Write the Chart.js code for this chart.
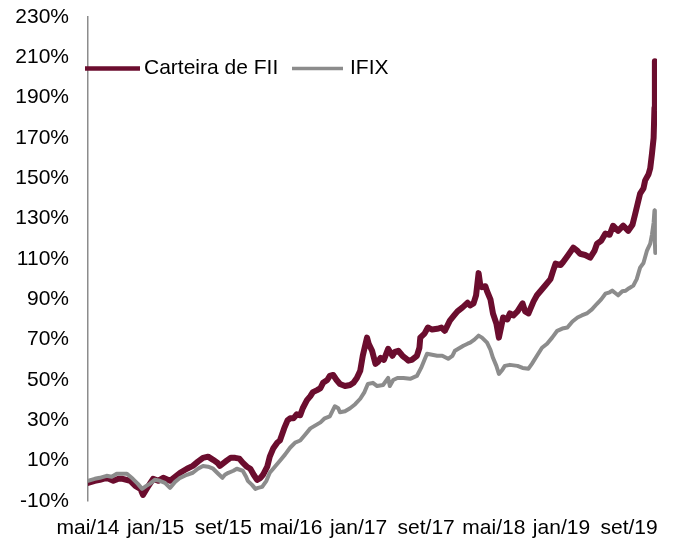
<!DOCTYPE html>
<html>
<head>
<meta charset="utf-8">
<script src="https://cdn.jsdelivr.net/npm/chart.js@4.4.1/dist/chart.umd.min.js"></script>
<style>
  html, body { margin: 0; padding: 0; background: #ffffff; }
  #wrap { width: 673px; height: 538px; position: relative; }
</style>
</head>
<body>
<div id="wrap"><canvas id="c" width="673" height="538"></canvas></div>
<script>
// ---- Data (x = months since mai/14, y = accumulated return in %) ----
const tickLabels = ['mai/14','jan/15','set/15','mai/16','jan/17','set/17','mai/18','jan/19','set/19'];
const tickMonths = [0, 8, 16, 24, 32, 40, 48, 56, 64];
const seriesNames = ['Carteira de FII', 'IFIX'];

const carteiraMonths = [0,0.8,1.4,2.2,3.0,3.6,4.1,5.0,5.6,6.2,6.5,7.0,7.7,8.3,8.9,9.7,10.3,10.9,11.7,12.4,13.0,13.6,14.2,14.8,15.3,15.6,16.1,16.4,16.9,17.4,17.9,18.3,18.8,19.2,19.6,20.0,20.4,20.7,21.2,21.5,21.9,22.4,22.7,23.2,23.6,23.9,24.3,24.7,25.1,25.4,25.9,26.3,26.6,27.1,27.5,27.8,28.3,28.6,29.0,29.4,29.8,30.4,31.0,31.4,31.8,32.2,32.5,33.0,33.2,33.6,34.0,34.3,34.6,35.0,35.5,36.0,36.3,36.7,37.2,37.5,37.9,38.3,38.9,39.2,39.3,39.8,40.2,40.7,41.3,41.8,42.2,42.8,43.3,43.7,44.3,44.9,45.2,45.6,45.9,46.2,46.4,46.6,47.0,47.2,47.6,47.9,48.3,48.6,48.9,49.1,49.6,49.9,50.3,50.8,51.4,51.7,52.1,52.7,53.1,53.5,54.1,54.7,55.0,55.3,55.9,56.2,56.8,57.4,57.9,58.2,58.8,59.4,59.9,60.2,60.7,61.2,61.7,62.1,62.7,63.3,63.9,64.4,64.7,65.3,65.7,65.9,66.3,66.5,66.7,66.9,67.0,67.05,67.1,67.15,67.2];
const carteiraValues = [-1,0,0.5,1.5,0,1,1,0,-2.5,-4,-7,-3.5,1,0,1.5,0,2,4,6,7.4,9.5,11.4,12,10.4,9,7.4,9,10,11.5,11.4,11,9,7,6,3,0.5,1.5,3,7,12,16,19,20,26,30,31,31,33,32.5,36,40,42,44,45,46,48.6,50,52,52.5,50,48,47,47.5,48.6,51,54.6,62,71,68,64.5,58,59,61,60,65.5,62,64,64.5,62,61,59.6,60,62,66,71,73,76,75,75.4,76,74.4,79.4,82,84,86,88.3,87,88,92,103,97,96,96.5,94,90,83,78,71,77,81,80,83,82,84,88,84,83,89,92,94,97,100,104,107.7,107,108.5,112,115.6,114,112.6,112,110.7,114,117.6,119,122.6,122,126.5,124,126.5,124,127,132,142.4,145,149,152,155,162,170,185,208,192,205,188];

const ifixMonths = [0,0.8,1.4,2.2,2.8,3.4,4.0,4.6,5.3,5.9,6.4,6.9,7.3,7.9,8.5,9.1,9.7,10.3,10.9,11.7,12.4,13.0,13.6,14.2,14.8,15.4,15.9,16.2,16.6,17.2,17.6,18.3,18.7,18.9,19.4,19.8,20.1,20.6,21.1,21.5,22.1,22.7,23.3,23.9,24.5,25.1,25.7,26.3,26.9,27.5,28.0,28.6,29.2,29.6,29.8,30.4,31.0,31.6,32.2,32.7,33.1,33.7,34.2,34.9,35.5,35.7,36.1,36.6,37.3,38.1,38.9,39.4,39.8,40.1,40.7,41.3,41.9,42.6,43.1,43.4,44.0,44.4,44.9,45.2,45.7,46.2,46.6,47.2,47.6,47.9,48.3,48.6,49.0,49.3,49.9,50.8,51.4,52.1,52.5,53.1,53.7,54.3,54.9,55.5,56.1,56.7,57.3,57.9,58.4,59.0,59.6,60.2,60.7,61.2,61.7,62.0,62.4,62.7,63.2,63.6,64.0,64.5,64.9,65.3,65.7,66.1,66.5,66.7,66.9,67.0,67.05,67.1];
const ifixValues = [0,1,1.5,2.5,2,3.5,3.5,3.5,1,-1.5,-4,-2.5,-1.5,0.5,0,-1,-3.5,-0.5,1.5,3,4,6,7.4,7,6,3.5,1.5,3,4,5,6,5,2,0,-2,-4,-3.5,-3,0,4,7,10,13,16.4,19,20,23,26,27.5,29,31,32,37,36,34,34.5,36,38,40.7,44,48,48.6,47,47.5,51,47,50,51,51,50.6,52,56,60,63,62.5,62,62,60.5,62,64.5,66,67,68,68.5,70,72,71,68.5,65,61,57,53,55,57,57.5,57,56,55.6,58,62,66,68,71,74.4,75.5,76,79,81,82,83,85,87.8,90,92.8,93.5,94.3,93,92,94,94.3,95.5,96.8,100,105.7,108,114,117.6,122,128,134,118,113];

const yMin = -10, yMax = 230, yStep = 20;
const xMin = 0, xMax = 67.3;

// ---- Build datasets ----
function toPoints(xs, ys) { return xs.map((x, i) => ({ x: x, y: ys[i] })); }

const MAROON = '#6b0d2e';
const GRAY = '#8c8c8c';
const FONT = "'Liberation Sans', Arial, Helvetica, sans-serif";

const legendPlugin = {
  id: 'inlineLegend',
  afterDraw(chart) {
    const ctx = chart.ctx;
    const items = [
      { text: seriesNames[0], color: MAROON, width: 4.5, x0: 85, x1: 140, tx: 144 },
      { text: seriesNames[1], color: GRAY, width: 3.5, x0: 292, x1: 343, tx: 350 }
    ];
    const y = 68.5;
    ctx.save();
    items.forEach(it => {
      ctx.beginPath();
      ctx.strokeStyle = it.color;
      ctx.lineWidth = it.width;
      ctx.lineCap = 'butt';
      ctx.moveTo(it.x0, y);
      ctx.lineTo(it.x1, y);
      ctx.stroke();
      ctx.fillStyle = '#000000';
      ctx.font = '21px ' + FONT;
      ctx.textBaseline = 'middle';
      ctx.textAlign = 'left';
      ctx.fillText(it.text, it.tx, y);
    });
    ctx.restore();
  }
};

new Chart(document.getElementById('c'), {
  type: 'line',
  data: {
    datasets: [
      {
        label: seriesNames[0],
        data: toPoints(carteiraMonths, carteiraValues),
        borderColor: MAROON,
        borderWidth: 6,
        pointRadius: 0,
        tension: 0,
        borderJoinStyle: 'round',
        borderCapStyle: 'round',
        order: 1
      },
      {
        label: seriesNames[1],
        data: toPoints(ifixMonths, ifixValues),
        borderColor: GRAY,
        borderWidth: 4,
        pointRadius: 0,
        tension: 0,
        borderJoinStyle: 'round',
        borderCapStyle: 'round',
        order: 0
      }
    ]
  },
  options: {
    responsive: false,
    animation: false,
    devicePixelRatio: 1,
    layout: { padding: { top: 17, right: 16, left: 0, bottom: 0 } },
    plugins: {
      legend: { display: false },
      tooltip: { enabled: false },
      title: { display: false }
    },
    scales: {
      x: {
        type: 'linear',
        min: xMin,
        max: xMax,
        afterBuildTicks(scale) { scale.ticks = tickMonths.map(v => ({ value: v })); },
        afterFit(scale) { scale.height = 37; scale.paddingLeft = 0; scale.paddingRight = 0; },
        ticks: {
          autoSkip: false,
          maxRotation: 0,
          minRotation: 0,
          padding: 15,
          color: '#000000',
          font: { family: FONT, size: 21 },
          callback(value) {
            const i = tickMonths.indexOf(value);
            return i >= 0 ? tickLabels[i] : '';
          }
        },
        grid: { display: false, drawTicks: false },
        border: { display: false }
      },
      y: {
        min: yMin,
        max: yMax,
        afterFit(scale) { scale.width = 88; scale.paddingTop = 0; scale.paddingBottom = 0; },
        ticks: {
          stepSize: yStep,
          padding: 19,
          color: '#000000',
          font: { family: FONT, size: 21 },
          callback(value) { return value + '%'; }
        },
        grid: {
          drawTicks: false,
          color(ctx) { return ctx.tick && ctx.tick.value === 0 ? GRAY : 'rgba(0,0,0,0)'; },
          lineWidth: 1.5
        },
        border: { display: true, color: GRAY, width: 1.5 }
      }
    }
  },
  plugins: [legendPlugin]
});
</script>
</body>
</html>
